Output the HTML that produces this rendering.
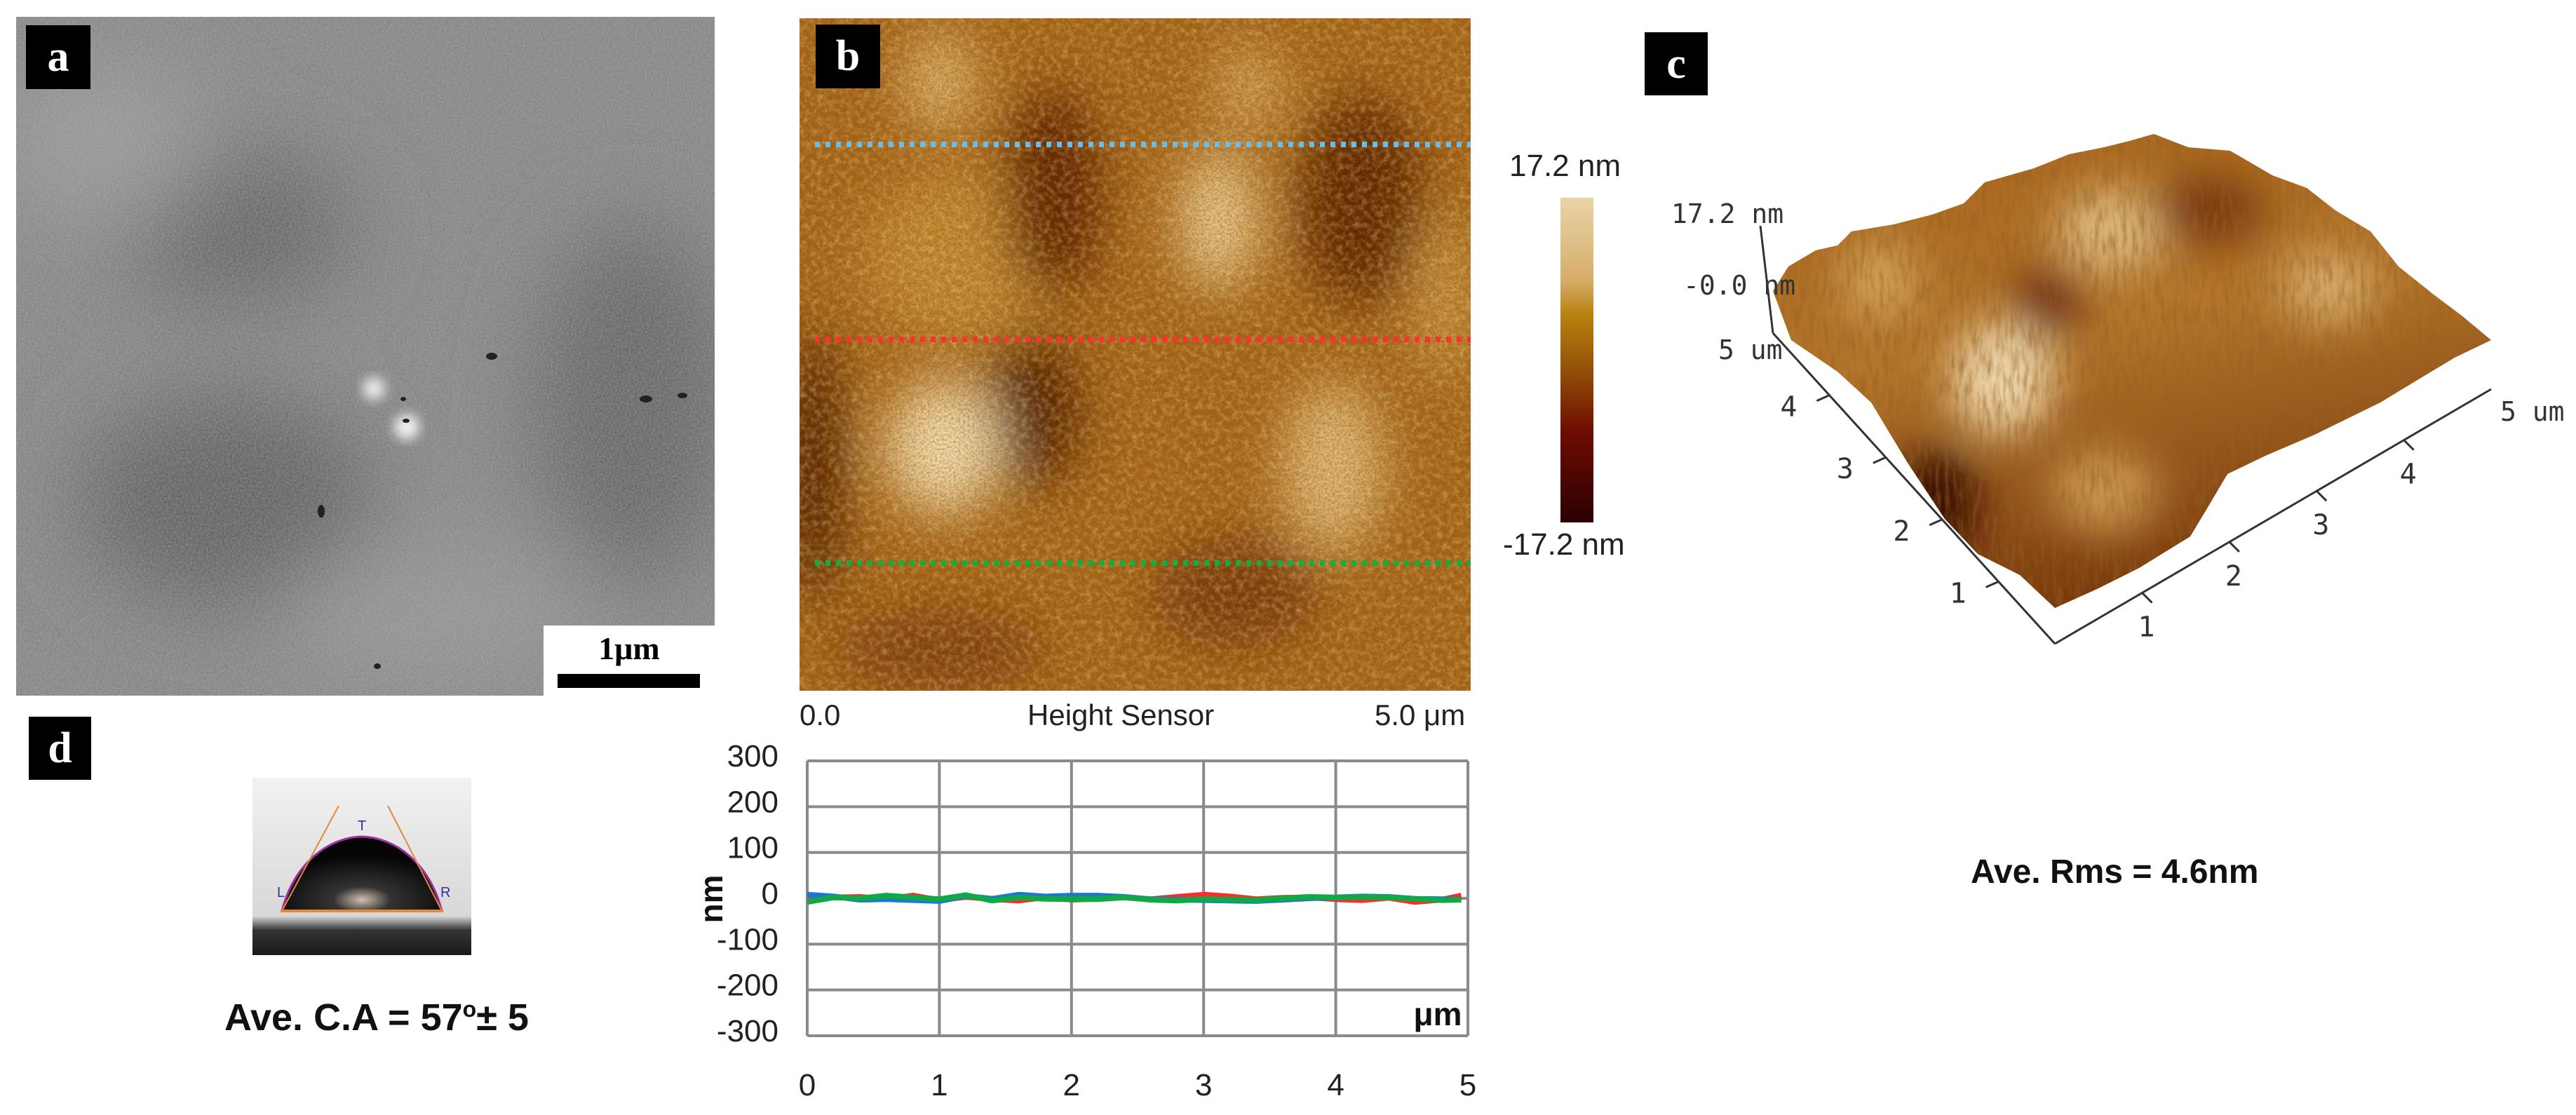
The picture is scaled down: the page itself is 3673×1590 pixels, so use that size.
<!DOCTYPE html>
<html><head><meta charset="utf-8">
<style>
html,body{margin:0;padding:0;background:#fff;}
#root{position:relative;width:3673px;height:1590px;overflow:hidden;background:#fff;font-family:"Liberation Sans",sans-serif;}
.lbl{position:absolute;background:#000;color:#fff;font-family:"Liberation Serif",serif;font-weight:bold;font-size:62px;display:flex;align-items:center;justify-content:center;}
.t{position:absolute;white-space:nowrap;}
</style></head>
<body>
<div id="root">

<!-- Panel a: SEM -->
<svg class="t" style="left:23px;top:24px" width="996" height="968">
  <defs>
    <filter id="semNoise" x="0" y="0" width="100%" height="100%">
      <feTurbulence type="fractalNoise" baseFrequency="0.35" numOctaves="2" seed="3" result="n"/>
      <feColorMatrix type="matrix" values="0 0 0 0 0.5  0 0 0 0 0.5  0 0 0 0 0.5  1.2 0 0 0 -0.3" />
    </filter>
    <filter id="blurA"><feGaussianBlur stdDeviation="60"/></filter>
    <filter id="blurS"><feGaussianBlur stdDeviation="8"/></filter>
  </defs>
  <rect width="996" height="968" fill="#878787"/>
  <g filter="url(#blurA)">
    <ellipse cx="310" cy="300" rx="170" ry="110" fill="#666"/>
    <ellipse cx="300" cy="690" rx="210" ry="150" fill="#636363"/>
    <ellipse cx="880" cy="550" rx="140" ry="260" fill="#686868"/>
    <ellipse cx="120" cy="180" rx="150" ry="120" fill="#989898"/>
    <ellipse cx="600" cy="850" rx="220" ry="100" fill="#949494"/>
  </g>
  <rect width="996" height="968" filter="url(#semNoise)" opacity="0.5"/>
  <g filter="url(#blurS)">
    <circle cx="510" cy="530" r="16" fill="#e8e8e8"/>
    <circle cx="557" cy="585" r="18" fill="#f0f0f0"/>
  </g>
  <g fill="#222">
    <ellipse cx="678" cy="484" rx="8" ry="5"/><ellipse cx="556" cy="576" rx="5" ry="3"/>
    <ellipse cx="435" cy="705" rx="5" ry="9"/><ellipse cx="898" cy="545" rx="9" ry="5"/>
    <ellipse cx="950" cy="540" rx="7" ry="4"/><ellipse cx="515" cy="926" rx="5" ry="4"/>
    <ellipse cx="552" cy="545" rx="4" ry="3"/>
  </g>
</svg>
<div class="lbl" style="left:37px;top:36px;width:92px;height:91px">a</div>
<div class="t" style="left:775px;top:892px;width:244px;height:100px;background:#fff">
  <div class="t" style="left:0;width:244px;top:6px;text-align:center;font-family:'Liberation Serif',serif;font-weight:bold;font-size:46px">1μm</div>
  <div class="t" style="left:20px;top:69px;width:203px;height:20px;background:#000"></div>
</div>

<!-- Panel b: AFM height map -->
<svg class="t" style="left:1140px;top:26px" width="957" height="959">
  <defs>
    <filter id="afmNoise" x="0" y="0" width="100%" height="100%">
      <feTurbulence type="fractalNoise" baseFrequency="0.12" numOctaves="3" seed="7"/>
      <feColorMatrix type="matrix" values="0 0 0 0 0.9  0 0 0 0 0.7  0 0 0 0 0.35  1.4 0 0 0 -0.55"/>
    </filter>
    <filter id="afmNoise2" x="0" y="0" width="100%" height="100%">
      <feTurbulence type="fractalNoise" baseFrequency="0.3" numOctaves="2" seed="11"/>
      <feColorMatrix type="matrix" values="0 0 0 0 0.25  0 0 0 0 0.08  0 0 0 0 0  1.6 0 0 0 -0.6"/>
    </filter>
    <filter id="blurB"><feGaussianBlur stdDeviation="35"/></filter>
  </defs>
  <rect width="957" height="959" fill="#a6661a"/>
  <g filter="url(#blurB)">
    <ellipse cx="230" cy="340" rx="140" ry="120" fill="#c08630"/>
    <ellipse cx="360" cy="250" rx="70" ry="150" fill="#5e2404"/>
    <ellipse cx="330" cy="560" rx="70" ry="110" fill="#552004"/>
    <ellipse cx="800" cy="260" rx="90" ry="150" fill="#612806"/>
    <ellipse cx="20" cy="640" rx="40" ry="200" fill="#4e1c03"/>
    <ellipse cx="620" cy="820" rx="120" ry="80" fill="#7a3a0a"/>
    <ellipse cx="200" cy="900" rx="150" ry="60" fill="#80400c"/>
    <ellipse cx="597" cy="288" rx="55" ry="100" fill="#e8c98f"/>
    <ellipse cx="205" cy="612" rx="80" ry="95" fill="#f2dcaf"/>
    <ellipse cx="760" cy="640" rx="70" ry="120" fill="#ddb676"/>
    <ellipse cx="200" cy="90" rx="50" ry="70" fill="#d9b06c"/>
    <ellipse cx="640" cy="100" rx="50" ry="60" fill="#cf9f55"/>
    <ellipse cx="920" cy="400" rx="40" ry="120" fill="#c89243"/>
  </g>
  <rect width="957" height="959" filter="url(#afmNoise)" opacity="0.6"/>
  <rect width="957" height="959" filter="url(#afmNoise2)" opacity="0.6"/>
  <line x1="22" y1="180" x2="957" y2="180" stroke="#6bbde6" stroke-width="8" stroke-dasharray="7 8"/>
  <line x1="22" y1="458" x2="957" y2="458" stroke="#ff3030" stroke-width="8" stroke-dasharray="7 8"/>
  <line x1="22" y1="777" x2="957" y2="777" stroke="#10b040" stroke-width="8" stroke-dasharray="7 8"/>
</svg>
<div class="lbl" style="left:1163px;top:35px;width:92px;height:91px">b</div>
<div class="t" style="left:1140px;top:996px;font-size:42px;color:#222">0.0</div>
<div class="t" style="left:1465px;top:996px;font-size:42px;color:#222">Height Sensor</div>
<div class="t" style="left:1960px;top:996px;font-size:42px;color:#222">5.0 μm</div>

<!-- Colorbar -->
<div class="t" style="left:2152px;top:212px;font-size:44px;color:#222">17.2 nm</div>
<div class="t" style="left:2225px;top:282px;width:47px;height:463px;background:linear-gradient(to bottom,#e9d3a6 0%,#d6ae6c 25%,#b8820f 36%,#8f4a07 55%,#6e0c02 72%,#2a0000 100%)"></div>
<div class="t" style="left:2143px;top:752px;font-size:44px;color:#222">-17.2 nm</div>

<!-- Line profile chart -->
<svg class="t" id="profile" style="left:0;top:0" width="3673" height="1590"></svg>

<!-- Panel c: 3D -->
<div class="lbl" style="left:2345px;top:46px;width:90px;height:90px">c</div>
<svg class="t" style="left:0;top:0" width="3673" height="1590">
  <defs>
    <linearGradient id="surf" x1="0" y1="0" x2="0.3" y2="1">
      <stop offset="0" stop-color="#a8651c"/><stop offset="0.5" stop-color="#b4762a"/><stop offset="1" stop-color="#7a3a0c"/>
    </linearGradient>
    <filter id="n3d" x="0" y="0" width="100%" height="100%">
      <feTurbulence type="fractalNoise" baseFrequency="0.15 0.03" numOctaves="3" seed="5"/>
      <feColorMatrix type="matrix" values="0 0 0 0 0.3  0 0 0 0 0.12  0 0 0 0 0.02  1.5 0 0 0 -0.6"/>
    </filter>
    <filter id="b3d"><feGaussianBlur stdDeviation="30"/></filter>
    <clipPath id="clip3d"><polygon points="2528,415 2550,380 2589,357 2620,350 2640,330 2700,320 2755,306 2800,290 2830,260 2900,240 2950,220 3000,210 3040,200 3071,191 3120,210 3180,215 3240,250 3289,268 3330,300 3380,330 3420,380 3470,420 3510,450 3552,485 3500,510 3450,540 3394,574 3300,620 3230,650 3176,676 3150,720 3123,765 3050,810 2990,840 2930,867 2880,820 2820,790 2773,740 2720,660 2668,574 2620,530 2554,485"/></clipPath>
  </defs>
  <g clip-path="url(#clip3d)">
    <rect x="2500" y="180" width="1080" height="700" fill="url(#surf)"/>
    <g filter="url(#b3d)">
      <ellipse cx="2855" cy="540" rx="75" ry="80" fill="#ecd3a6"/>
      <ellipse cx="3010" cy="330" rx="80" ry="60" fill="#dcb77c"/>
      <ellipse cx="3320" cy="410" rx="70" ry="50" fill="#d6ac6c"/>
      <ellipse cx="2680" cy="400" rx="60" ry="60" fill="#cf9f55"/>
      <ellipse cx="2920" cy="430" rx="50" ry="50" fill="#6e2c08"/>
      <ellipse cx="3150" cy="300" rx="80" ry="50" fill="#7a3809"/>
      <ellipse cx="2760" cy="720" rx="60" ry="80" fill="#3a0e02"/>
      <ellipse cx="3000" cy="700" rx="80" ry="60" fill="#c9944e"/>
    </g>
    <rect x="2500" y="180" width="1080" height="700" filter="url(#n3d)" opacity="0.8"/>
  </g>
  <g stroke="#333" stroke-width="3" fill="none">
    <line x1="2930" y1="918" x2="3552" y2="555"/>
    <line x1="2930" y1="918" x2="2528" y2="475"/>
    <line x1="2528" y1="475" x2="2510" y2="322"/>
  </g>
  <g font-family="DejaVu Sans Mono, Liberation Mono, monospace" font-size="38" fill="#333">
    <text x="2383" y="318">17.2 nm</text>
    <text x="2400" y="420">-0.0 nm</text>
    <text x="2450" y="512">5 um</text>
    <text x="3565" y="600">5 um</text>
  </g>
  <g id="ticks3d" font-family="DejaVu Sans Mono, Liberation Mono, monospace" font-size="40" fill="#333"></g>
</svg>
<div class="t" style="left:2810px;top:1216px;font-size:48px;font-weight:bold;color:#111">Ave. Rms = 4.6nm</div>

<!-- Panel d -->
<div class="lbl" style="left:41px;top:1022px;width:89px;height:90px">d</div>
<svg class="t" style="left:360px;top:1109px" width="312" height="253">
  <defs>
    <linearGradient id="bg" x1="0" y1="0" x2="0" y2="1">
      <stop offset="0" stop-color="#f2f2f2"/><stop offset="0.78" stop-color="#d8d8d8"/><stop offset="0.86" stop-color="#333"/><stop offset="1" stop-color="#1a1a1a"/>
    </linearGradient>
    <radialGradient id="drop" cx="0.5" cy="0.85" r="0.6">
      <stop offset="0" stop-color="#d0c0b0"/><stop offset="0.3" stop-color="#333"/><stop offset="1" stop-color="#050505"/>
    </radialGradient>
  </defs>
  <rect width="312" height="253" fill="url(#bg)"/>
  <path d="M42,190 C60,120 110,85 156,84 C202,85 252,120 270,190 Z" fill="url(#drop)" stroke="#a030a0" stroke-width="3"/>
  <line x1="40" y1="190" x2="272" y2="190" stroke="#e08a3c" stroke-width="4"/>
  <line x1="42" y1="190" x2="123" y2="40" stroke="#e08a3c" stroke-width="2"/>
  <line x1="270" y1="190" x2="193" y2="40" stroke="#e08a3c" stroke-width="2"/>
  <g fill="#3030a0" font-size="20"><text x="35" y="170">L</text><text x="268" y="170">R</text><text x="150" y="75">T</text></g>
</svg>
<div class="t" style="left:320px;top:1420px;font-size:54px;font-weight:bold;color:#111;font-family:'Liberation Sans Narrow','Liberation Sans',sans-serif">Ave. C.A = 57<sup style="font-size:32px">o</sup>± 5</div>

<script>
// Profile chart data (nm vs μm)
const xTicks = [0,1,2,3,4,5];
const yTicks = [300,200,100,0,-100,-200,-300];
const profileX = [0,0.2,0.4,0.6,0.8,1.0,1.2,1.4,1.6,1.8,2.0,2.2,2.4,2.6,2.8,3.0,3.2,3.4,3.6,3.8,4.0,4.2,4.4,4.6,4.8,4.95];
const redVals   = [-6,2,3,-2,6,-4,3,-2,-5,2,-3,-1,2,-2,3,8,4,-2,1,2,-2,-4,1,-8,-3,6];
const blueVals  = [8,4,-3,-2,-4,-6,5,-1,8,4,6,6,3,-2,-3,-4,-5,-6,-3,0,2,4,3,-1,-2,-3];
const greenVals = [-8,2,0,6,2,-2,7,-5,2,-1,-2,-2,2,-3,-5,-2,-3,-4,0,3,2,3,2,-1,-4,-3];

const svg = document.getElementById('profile');
const NS = 'http://www.w3.org/2000/svg';
const L=1151, R=2093, T=1085, B=1477;
function sx(v){return L + (v-0)/(5-0)*(R-L);}
function sy(v){return T + (300-v)/600*(B-T);}
function mk(tag, attrs){const e=document.createElementNS(NS,tag);for(const k in attrs)e.setAttribute(k,attrs[k]);svg.appendChild(e);return e;}

yTicks.forEach(v=>{
  const g=mk('line',{x1:L,x2:R,y1:sy(v),y2:sy(v),stroke:'#8a8a8a','stroke-width':4});
  
  
  const t=mk('text',{x:1110,y:sy(v)+8,'text-anchor':'end','font-size':44,fill:'#222','font-family':'Liberation Sans Narrow, Liberation Sans, sans-serif'});
  t.textContent=v;
  
  
});
xTicks.forEach(v=>{
  const g=mk('line',{x1:sx(v),x2:sx(v),y1:T,y2:B,stroke:'#8a8a8a','stroke-width':4});
  
  
  const t=mk('text',{x:sx(v),y:1562,'text-anchor':'middle','font-size':44,fill:'#222','font-family':'Liberation Sans, sans-serif'});
  t.textContent=v;
  
  
});
const yt=mk('text',{x:0,y:0,transform:'translate(1030,1282) rotate(-90)','text-anchor':'middle','font-size':46,'font-weight':'bold',fill:'#111','font-family':'Liberation Sans, sans-serif'});
yt.textContent='nm';


const xt=mk('text',{x:2050,y:1462,'text-anchor':'middle','font-size':46,'font-weight':'bold',fill:'#111','font-family':'Liberation Sans, sans-serif'});
xt.textContent='μm';



[[redVals,'#ff2a2a','series-red'],[blueVals,'#1a78d0','series-blue'],[greenVals,'#12a848','series-green']].forEach(([vals,col,name])=>{
  const d=vals.map((v,i)=>(i?'L':'M')+sx(profileX[i]).toFixed(1)+','+sy(v).toFixed(1)).join(' ');
  const p=mk('path',{d:d,fill:'none',stroke:col,'stroke-width':8,'stroke-linejoin':'round'});
  
  
});

// 3D axis ticks
const axisTicks = [1,2,3,4];
const tg=document.getElementById('ticks3d');
axisTicks.forEach(v=>{
  const f=v/5;
  const xx=2930+(3552-2930)*f, xy=918+(555-918)*f;
  const t=document.createElementNS(NS,'text');
  t.setAttribute('x',xx-6); t.setAttribute('y',xy+62); t.textContent=v;
  
  
  tg.appendChild(t);
  const l=document.createElementNS(NS,'line');
  l.setAttribute('x1',xx);l.setAttribute('y1',xy);l.setAttribute('x2',xx+14);l.setAttribute('y2',xy+14);
  l.setAttribute('stroke','#333');l.setAttribute('stroke-width','3');
  
  
  tg.appendChild(l);
  const yx=2930+(2528-2930)*f, yy=918+(475-918)*f;
  const t2=document.createElementNS(NS,'text');
  t2.setAttribute('x',yx-70); t2.setAttribute('y',yy+30); t2.textContent=v;
  
  
  tg.appendChild(t2);
  const l2=document.createElementNS(NS,'line');
  l2.setAttribute('x1',yx);l2.setAttribute('y1',yy);l2.setAttribute('x2',yx-18);l2.setAttribute('y2',yy+8);
  l2.setAttribute('stroke','#333');l2.setAttribute('stroke-width','3');
  
  
  tg.appendChild(l2);
});
</script>
</div>
</body></html>
